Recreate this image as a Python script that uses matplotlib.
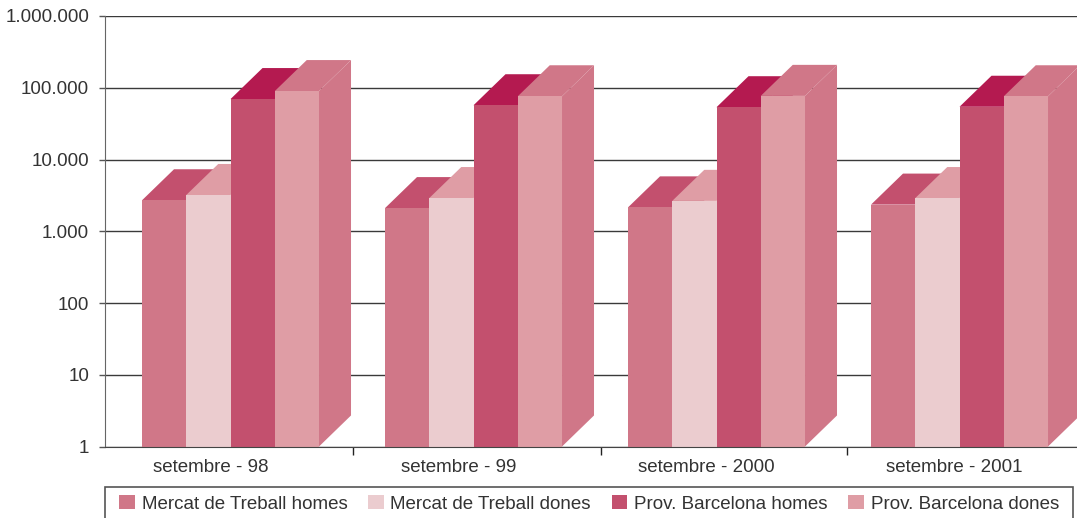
import matplotlib
matplotlib.use('Agg')
import matplotlib.pyplot as plt
from matplotlib.patches import Polygon, Patch, Rectangle
from matplotlib.ticker import FixedLocator, NullFormatter, FuncFormatter

plt.rcParams['font.family'] = ['Liberation Sans', 'DejaVu Sans']

categories = ['setembre - 98', 'setembre - 99', 'setembre - 2000', 'setembre - 2001']
series_names = ['Mercat de Treball homes', 'Mercat de Treball dones',
                'Prov. Barcelona homes', 'Prov. Barcelona dones']
mt_homes = [2700, 2100, 2150, 2350]
mt_dones = [3200, 2900, 2650, 2900]
pb_homes = [69500, 57000, 53500, 54300]
pb_dones = [89800, 76000, 77000, 76000]

front_cols = ['#D07788', '#EBCCCF', '#C3506E', '#DF9DA5']
top_cols = ['#C3506E', '#DF9DA5', '#B41A50', '#D07788']
side_cols = ['#C3506E', '#DF9DA5', '#B41A50', '#D07788']
txt = '#333333'

W, H = 1077, 518
fig = plt.figure(figsize=(W / 100, H / 100), dpi=100)
ax = fig.add_axes([105 / W, 1 - 446.5 / H, 972 / W, 430.5 / H])
ax.set_yscale('log')
ax.set_ylim(1, 1e6)
ax.set_xlim(-0.5165, 3.4835)

bw = 0.1821          # bar width in group units
dx = 0.1317          # depth offset in x
ky = 10 ** 0.4326    # depth offset in y (log factor)

series = [mt_homes, mt_dones, pb_homes, pb_dones]
z = 2
for g in range(len(categories)):
    for i, vals in enumerate(series):
        v = vals[g]
        x0 = g + (i - 2) * bw
        x1 = x0 + bw
        top = [(x0, v), (x1, v), (x1 + dx, v * ky), (x0 + dx, v * ky)]
        side = [(x1, 1), (x1, v), (x1 + dx, v * ky), (x1 + dx, ky)]
        ax.add_patch(Polygon(top, closed=True, fc=top_cols[i], ec='none', zorder=z))
        ax.add_patch(Polygon(side, closed=True, fc=side_cols[i], ec='none', zorder=z))
        ax.bar(x0, v - 1, bottom=1, width=bw, align='edge', color=front_cols[i],
               linewidth=0, zorder=z + 0.5)
        z += 1

# gridlines at each decade
ax.yaxis.set_major_locator(FixedLocator([10 ** k for k in range(7)]))
ax.yaxis.set_minor_locator(FixedLocator([]))
ax.yaxis.set_major_formatter(FuncFormatter(lambda v, p: f'{int(round(v)):,}'.replace(',', '.')))
ax.grid(axis='y', color='#3a3a3a', linewidth=1.0, zorder=0)
ax.set_axisbelow(True)
ax.tick_params(axis='y', length=4.5, width=1, color='#555555', pad=7,
               labelsize=13.5, labelcolor=txt)

# category labels and separators between groups
ax.xaxis.set_major_locator(FixedLocator([0.505, 1.525, 2.537]))
ax.xaxis.set_major_formatter(NullFormatter())
ax.set_xticks([g - 0.08 + 0.02 * g for g in range(len(categories))], minor=True)
ax.set_xticklabels(categories, minor=True)
ax.tick_params(axis='x', which='major', length=5.5, width=1, color='#222222', direction='out')
ax.tick_params(axis='x', which='minor', length=0, pad=9, labelsize=13.5, labelcolor=txt)

for s in ['top', 'right']:
    ax.spines[s].set_visible(False)
ax.spines['left'].set_color('#666666')
ax.spines['bottom'].set_color('#444444')
ax.spines['bottom'].set_zorder(100)

# legend row with its own box running off the bottom edge
handles = [Patch(facecolor=c, edgecolor='none') for c in front_cols]
leg = fig.legend(handles, series_names, loc='upper left',
                 bbox_to_anchor=(119 / W, 1 - 495 / H), ncol=4, frameon=False,
                 fontsize=13.5, handlelength=0.85, handleheight=0.8,
                 handletextpad=0.35, columnspacing=1.1, borderpad=0,
                 borderaxespad=0)
for t in leg.get_texts():
    t.set_color(txt)
fig.add_artist(Rectangle((105 / W, -0.02), (1073 - 105) / W, (518 - 487) / H + 0.02,
                         transform=fig.transFigure, fill=False,
                         edgecolor='#555555', linewidth=1.2))

fig.savefig('out.png', dpi=100)
